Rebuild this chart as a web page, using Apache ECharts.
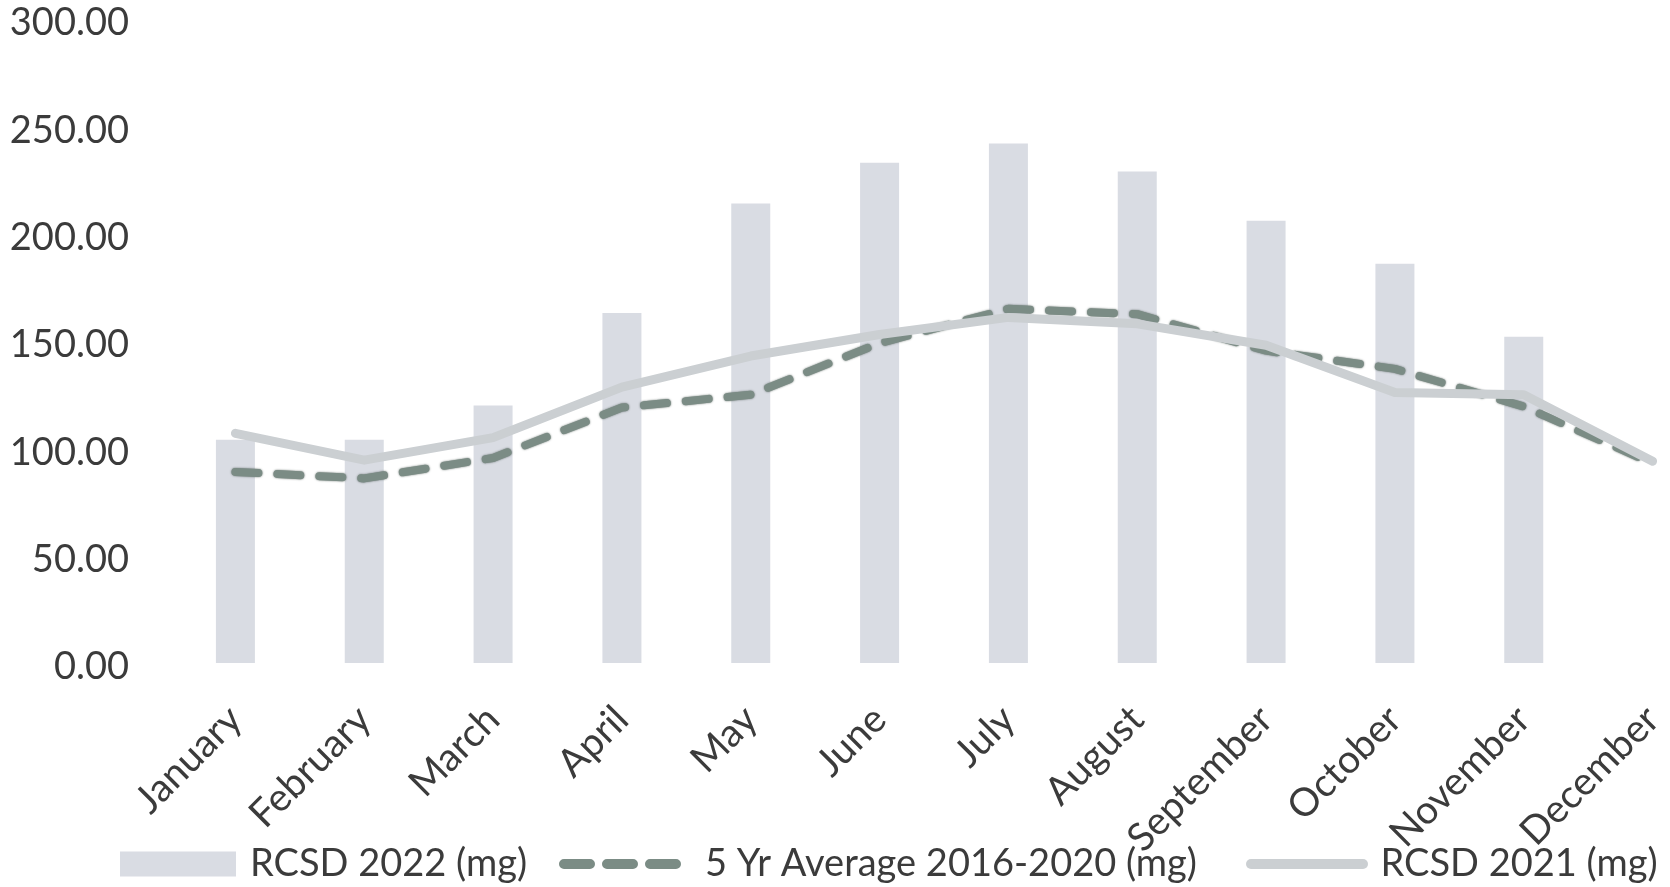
<!DOCTYPE html>
<html>
<head>
<meta charset="utf-8">
<script src="https://cdn.jsdelivr.net/npm/echarts@6/dist/echarts.min.js"></script>
<style>
  html, body { margin: 0; padding: 0; background: #ffffff; }
  #chart { width: 1670px; height: 887px; }
</style>
</head>
<body>
<div id="chart"></div>
<script>
// Monthly categories
const months = ['January', 'February', 'March', 'April', 'May', 'June',
  'July', 'August', 'September', 'October', 'November', 'December'];

// RCSD 2022 (mg) – bars (no December value yet)
const rcsd2022 = [104, 104, 120, 163, 214, 233, 242, 229, 206, 186, 152, null];

// 5 Yr Average 2016-2020 (mg) – dashed line
const avg5yr = [89, 86, 95.5, 119, 125, 149, 165, 162.5, 145.5, 137, 119.5, 93];

// RCSD 2021 (mg) – solid line
const rcsd2021 = [107, 94.5, 105, 128.5, 143, 153, 161, 158, 148, 126, 125, 94];

// Value axis ticks
const yMin = 0, yMax = 300, yStep = 50;

const FONT = 'Lato, "Open Sans", sans-serif';
const TEXT = '#3b3b3b';
const BAR_COLOR = '#d9dce3';
const AVG_COLOR = '#7b8c85';
const Y2021_COLOR = '#cbcfd2';

// Legend glyphs: three rounded dashes, and a thin rounded bar
const DASH_ICON = 'path://M5,0H31A5,5 0 0 1 31,10H5A5,5 0 0 1 5,0Z' +
  'M48,0H74A5,5 0 0 1 74,10H48A5,5 0 0 1 48,0Z' +
  'M91,0H117A5,5 0 0 1 117,10H91A5,5 0 0 1 91,0Z';
const BAR_LINE_ICON = 'path://M5,0H117A5,5 0 0 1 117,10H5A5,5 0 0 1 5,0Z';

const legendText = { fontFamily: FONT, fontSize: 38, color: TEXT };

const chart = echarts.init(document.getElementById('chart'), null, { renderer: 'canvas' });

chart.setOption({
  animation: false,
  backgroundColor: '#ffffff',
  textStyle: { fontFamily: FONT },
  grid: {
    left: 171, top: 19, height: 644, width: 1546,
    containLabel: false,
    outerBoundsMode: 'none'
  },
  legend: [
    {
      left: 115, top: 840,
      itemWidth: 116, itemHeight: 25,
      textStyle: Object.assign({ padding: [0, 0, 0, 9] }, legendText),
      data: [{ name: 'RCSD 2022 (mg)', icon: 'rect' }]
    },
    {
      left: 554, top: 840,
      itemWidth: 122, itemHeight: 11,
      textStyle: Object.assign({ padding: [0, 0, 0, 19] }, legendText),
      data: [{ name: '5 Yr Average 2016-2020 (mg)', icon: DASH_ICON }]
    },
    {
      left: 1241, top: 840,
      itemWidth: 127, itemHeight: 10,
      textStyle: Object.assign({ padding: [0, 0, 0, 5] }, legendText),
      data: [{ name: 'RCSD 2021 (mg)', icon: BAR_LINE_ICON }]
    }
  ],
  xAxis: {
    type: 'category',
    data: months,
    boundaryGap: true,
    axisLine: { show: false },
    axisTick: { show: false },
    axisLabel: {
      interval: 0,
      rotate: 45,
      margin: 50,
      padding: [22, 0, 0, 0],
      fontFamily: FONT,
      fontSize: 39,
      color: TEXT
    }
  },
  yAxis: {
    type: 'value',
    min: yMin,
    max: yMax,
    interval: yStep,
    splitLine: { show: false },
    axisLine: { show: false },
    axisTick: { show: false },
    axisLabel: {
      margin: 42,
      verticalAlign: 'top',
      lineHeight: 8,
      fontFamily: FONT,
      fontSize: 38,
      color: TEXT,
      formatter: v => v.toFixed(2)
    }
  },
  series: [
    {
      name: 'RCSD 2022 (mg)',
      type: 'bar',
      data: rcsd2022,
      barWidth: 39,
      itemStyle: { color: BAR_COLOR }
    },
    {
      name: '5 Yr Average 2016-2020 (mg)',
      type: 'line',
      data: avg5yr,
      symbol: 'none',
      lineStyle: {
        color: AVG_COLOR,
        width: 8,
        type: [23, 19],
        cap: 'round',
        shadowColor: 'rgba(40,55,48,0.7)',
        shadowBlur: 2
      },
      itemStyle: { color: AVG_COLOR }
    },
    {
      name: 'RCSD 2021 (mg)',
      type: 'line',
      data: rcsd2021,
      symbol: 'none',
      lineStyle: { color: Y2021_COLOR, width: 9, cap: 'round', join: 'round' },
      itemStyle: { color: Y2021_COLOR }
    }
  ]
});
</script>
</body>
</html>
